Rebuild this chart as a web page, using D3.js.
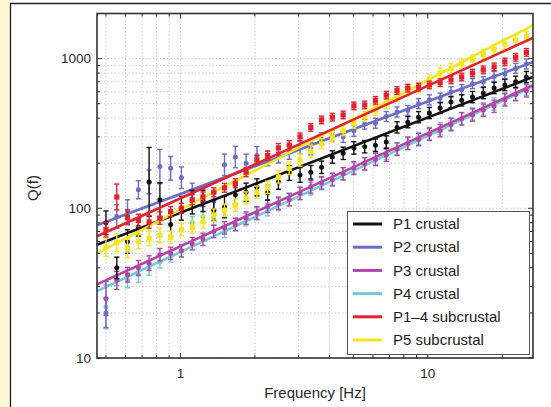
<!DOCTYPE html>
<html>
<head>
<meta charset="utf-8">
<script src="https://cdn.jsdelivr.net/npm/d3@7"></script>
<style>
  body { margin: 0; background: #fff; }
  svg { display: block; font-family: "Liberation Sans", Arial, sans-serif; }
</style>
</head>
<body>
<svg id="chart" width="551" height="407"></svg>
<script>
// frequency of each measurement (Hz)
const freqs = [0.500, 0.553, 0.611, 0.676, 0.747, 0.826, 0.913, 1.009, 1.116, 1.233,
               1.364, 1.507, 1.667, 1.842, 2.037, 2.252, 2.489, 2.752, 3.043, 3.364,
               3.719, 4.111, 4.545, 5.024, 5.555, 6.141, 6.789, 7.506, 8.298, 9.173,
               10.14, 11.21, 12.40, 13.70, 15.15, 16.75, 18.52, 20.47, 22.63, 25.01];

const seriesNames = ["P1 crustal", "P2 crustal", "P3 crustal", "P4 crustal", "P1\u20134 subcrustal", "P5 subcrustal"];

// Q values, relative error (bar spans Q/(1+e) .. Q*(1+e))
const p1Q = [80, 40, 60, 75, 150, 114, 78, 100, 110, 112, 97, 102, 123, 128, 138, 127, 150, 172, 167, 174,
             188, 220, 233, 253, 258, 264, 277, 347, 376, 406, 433, 468, 512, 526, 553, 588, 635, 666, 700, 753];
const p1Err = [0.2, 0.18, 0.2, 0.15, 0.7, 0.3, 0.2, 0.2, 0.2, 0.18, 0.18, 0.18, 0.15, 0.15, 0.14, 0.12, 0.12, 0.12, 0.12, 0.11,
               0.1, 0.1, 0.1, 0.1, 0.1, 0.1, 0.1, 0.09, 0.09, 0.09, 0.09, 0.09, 0.09, 0.09, 0.09, 0.09, 0.09, 0.09, 0.09, 0.09];

const p2Q = [20, 88, 95, 133, 150, 190, 185, 160, 128, 118, 112, 195, 220, 200, 225, 215, 225, 238, 255, 250,
             290, 305, 300, 330, 365, 370, 410, 440, 450, 500, 530, 545, 600, 620, 680, 700, 760, 790, 860, 920];
const p2Err = [0.25, 0.2, 0.2, 0.15, 0.2, 0.3, 0.2, 0.18, 0.15, 0.15, 0.15, 0.18, 0.18, 0.15, 0.15, 0.12, 0.12, 0.12, 0.1, 0.1,
               0.1, 0.09, 0.09, 0.09, 0.08, 0.08, 0.08, 0.08, 0.08, 0.08, 0.08, 0.08, 0.08, 0.08, 0.08, 0.08, 0.08, 0.08, 0.08, 0.08];

const p3Q = [25, 33, 36, 40, 43, 49, 50, 52, 58, 62, 70, 74, 78, 86, 93, 103, 108, 114, 126, 139,
             148, 155, 170, 186, 198, 212, 226, 248, 272, 288, 312, 330, 362, 396, 420, 452, 480, 530, 575, 610];
const p3Err = [0.3, 0.15, 0.12, 0.12, 0.12, 0.1, 0.1, 0.1, 0.1, 0.1, 0.1, 0.1, 0.1, 0.1, 0.1, 0.1, 0.1, 0.1, 0.1, 0.1,
               0.1, 0.1, 0.1, 0.1, 0.1, 0.1, 0.1, 0.1, 0.1, 0.1, 0.1, 0.1, 0.1, 0.1, 0.1, 0.1, 0.1, 0.1, 0.1, 0.1];

const p4Q = [22, 35, 33, 36, 40, 44, 48, 52, 80, 88, 85, 70, 78, 84, 92, 98, 106, 115, 125, 135,
             146, 157, 170, 184, 199, 215, 232, 250, 270, 292, 315, 340, 368, 396, 428, 462, 498, 538, 580, 625];
const p4Err = [0.4, 0.15, 0.12, 0.12, 0.12, 0.1, 0.1, 0.1, 0.1, 0.1, 0.1, 0.1, 0.1, 0.1, 0.1, 0.1, 0.1, 0.1, 0.1, 0.1,
               0.1, 0.1, 0.1, 0.1, 0.1, 0.1, 0.1, 0.1, 0.1, 0.1, 0.1, 0.1, 0.1, 0.1, 0.1, 0.1, 0.1, 0.1, 0.1, 0.1];

const p14Q = [72, 119, 87, 83, 81, 86, 95, 100, 114, 119, 128, 137, 147, 174, 210, 225, 253, 264, 300, 347,
              389, 406, 420, 483, 490, 526, 570, 612, 635, 645, 666, 690, 720, 753, 800, 840, 880, 950, 1020, 1100];
const p14Err = [0.12, 0.22, 0.12, 0.1, 0.1, 0.1, 0.08, 0.08, 0.08, 0.08, 0.07, 0.07, 0.07, 0.07, 0.07, 0.07, 0.07, 0.07, 0.06, 0.06,
                0.06, 0.06, 0.06, 0.06, 0.06, 0.06, 0.06, 0.06, 0.06, 0.06, 0.06, 0.06, 0.06, 0.06, 0.06, 0.06, 0.06, 0.06, 0.06, 0.06];

const p5Q = [55, 59, 54, 60, 63, 66, 64, 72, 75, 81, 90, 97, 105, 117, 128, 138, 162, 185, 210, 240,
             270, 300, 330, 370, 410, 450, 500, 560, 610, 640, 720, 800, 860, 920, 980, 1060, 1150, 1250, 1330, 1400];
const p5Err = [0.15, 0.15, 0.15, 0.12, 0.12, 0.12, 0.1, 0.1, 0.1, 0.1, 0.1, 0.1, 0.1, 0.1, 0.1, 0.1, 0.1, 0.1, 0.1, 0.1,
               0.08, 0.08, 0.08, 0.08, 0.08, 0.08, 0.08, 0.08, 0.08, 0.08, 0.08, 0.08, 0.08, 0.08, 0.08, 0.08, 0.08, 0.08, 0.08, 0.08];

// power-law fits: Q at the two ends of the frequency axis
const fitFreqs = [0.46, 26.6];
const p1Fit = [57, 753];
const p2Fit = [77, 948];
const p3Fit = [31, 665];
const p4Fit = [28, 650];
const p14Fit = [65, 1374];
const p5Fit = [50, 1675];

const xTickLabels = [1, 10];
const yTickLabels = [10, 100, 1000];

const series = [
  { name: seriesNames[0], q: p1Q, err: p1Err, fit: p1Fit, color: "#111111", shape: "circle" },
  { name: seriesNames[1], q: p2Q, err: p2Err, fit: p2Fit, color: "#6d6dc6", shape: "circle" },
  { name: seriesNames[2], q: p3Q, err: p3Err, fit: p3Fit, color: "#b444a6", shape: "circle" },
  { name: seriesNames[3], q: p4Q, err: p4Err, fit: p4Fit, color: "#72c9d6", shape: "circle" },
  { name: seriesNames[4], q: p14Q, err: p14Err, fit: p14Fit, color: "#e2232e", shape: "square" },
  { name: seriesNames[5], q: p5Q, err: p5Err, fit: p5Fit, color: "#f3e61e", shape: "square" }
];
// cyan goes under magenta
const drawOrder = [3, 2, 1, 0, 5, 4];

const svg = d3.select("#chart");

// page frame
svg.append("rect").attr("x", 0).attr("y", 0).attr("width", 10).attr("height", 407).attr("fill", "#fdf7d2");
svg.append("line").attr("x1", 10.5).attr("x2", 10.5).attr("y1", 3).attr("y2", 407).attr("stroke", "#222").attr("stroke-width", 1.3);
svg.append("line").attr("x1", 10).attr("x2", 551).attr("y1", 3.5).attr("y2", 3.5).attr("stroke", "#222").attr("stroke-width", 1.3);

const margin = { left: 97, right: 533, top: 13.5, bottom: 358 };

const x = d3.scaleLog().domain(fitFreqs).range([margin.left, margin.right]);
const y = d3.scaleLog().domain([10, 2000]).range([margin.bottom, margin.top]);

// grid
const grid = svg.append("g").attr("stroke", "#b4b4b4").attr("stroke-width", 0.8).attr("stroke-dasharray", "1.2,2.3");
grid.selectAll(".gx").data(x.ticks()).join("line")
    .attr("x1", d => x(d)).attr("x2", d => x(d))
    .attr("y1", margin.top).attr("y2", margin.bottom);
grid.selectAll(".gy").data(y.ticks()).join("line")
    .attr("x1", margin.left).attr("x2", margin.right)
    .attr("y1", d => y(d)).attr("y2", d => y(d));

// data
const plot = svg.append("g");
drawOrder.forEach(k => {
  const s = series[k];
  const g = plot.append("g");
  const pts = freqs.map((f, i) => ({ f: f, q: s.q[i], e: s.err[i] }));
  g.selectAll(".bar").data(pts).join("line")
   .attr("x1", d => x(d.f)).attr("x2", d => x(d.f))
   .attr("y1", d => y(d.q * (1 + d.e))).attr("y2", d => y(d.q / (1 + d.e)))
   .attr("stroke", s.color).attr("stroke-width", 1.4);
  g.selectAll(".capT").data(pts).join("line")
   .attr("x1", d => x(d.f) - 2.6).attr("x2", d => x(d.f) + 2.6)
   .attr("y1", d => y(d.q * (1 + d.e))).attr("y2", d => y(d.q * (1 + d.e)))
   .attr("stroke", s.color).attr("stroke-width", 1.4);
  g.selectAll(".capB").data(pts).join("line")
   .attr("x1", d => x(d.f) - 2.6).attr("x2", d => x(d.f) + 2.6)
   .attr("y1", d => y(d.q / (1 + d.e))).attr("y2", d => y(d.q / (1 + d.e)))
   .attr("stroke", s.color).attr("stroke-width", 1.4);
  if (s.shape === "circle") {
    g.selectAll(".pt").data(pts).join("circle")
     .attr("cx", d => x(d.f)).attr("cy", d => y(d.q)).attr("r", 2.5)
     .attr("fill", s.color);
  } else {
    g.selectAll(".pt").data(pts).join("rect")
     .attr("x", d => x(d.f) - 2.6).attr("y", d => y(d.q) - 2.6)
     .attr("width", 5.2).attr("height", 5.2)
     .attr("fill", s.color);
  }
  g.append("path")
   .datum(fitFreqs.map((f, i) => [f, s.fit[i]]))
   .attr("d", d3.line().x(d => x(d[0])).y(d => y(d[1])))
   .attr("stroke", s.color).attr("stroke-width", 2.6).attr("fill", "none");
});

// axes (ticks inside, box on)
const tickLen = d => [1, 10, 100, 1000].includes(d) ? 5 : 3;
const axisG = svg.append("g").attr("stroke", "#333").attr("stroke-width", 1);
x.ticks().forEach(d => {
  axisG.append("line").attr("x1", x(d)).attr("x2", x(d)).attr("y1", margin.bottom).attr("y2", margin.bottom - tickLen(d));
  axisG.append("line").attr("x1", x(d)).attr("x2", x(d)).attr("y1", margin.top).attr("y2", margin.top + tickLen(d));
});
y.ticks().forEach(d => {
  axisG.append("line").attr("x1", margin.left).attr("x2", margin.left + tickLen(d)).attr("y1", y(d)).attr("y2", y(d));
  axisG.append("line").attr("x1", margin.right).attr("x2", margin.right - tickLen(d)).attr("y1", y(d)).attr("y2", y(d));
});
svg.append("rect")
   .attr("x", margin.left).attr("y", margin.top)
   .attr("width", margin.right - margin.left).attr("height", margin.bottom - margin.top)
   .attr("fill", "none").attr("stroke", "#333").attr("stroke-width", 1.6);

// tick labels
svg.append("g").selectAll("text").data(xTickLabels).join("text")
   .attr("x", d => x(d)).attr("y", 378)
   .attr("text-anchor", "middle").attr("font-size", 13.5).attr("fill", "#2a2a2a")
   .text(d => d);
svg.append("g").selectAll("text").data(yTickLabels).join("text")
   .attr("x", 91).attr("y", d => y(d) + 4.8)
   .attr("text-anchor", "end").attr("font-size", 13.5).attr("fill", "#2a2a2a")
   .text(d => d);

svg.append("text").attr("x", (margin.left + margin.right) / 2).attr("y", 398)
   .attr("text-anchor", "middle").attr("font-size", 15).attr("fill", "#2a2a2a")
   .text("Frequency [Hz]");
svg.append("text").attr("transform", "translate(38,188) rotate(-90)")
   .attr("text-anchor", "middle").attr("font-size", 15).attr("fill", "#2a2a2a")
   .text("Q(f)");

// legend
const leg = svg.append("g");
leg.append("rect").attr("x", 347.5).attr("y", 211.5).attr("width", 182).attr("height", 143)
   .attr("fill", "#fff").attr("stroke", "#555").attr("stroke-width", 1);
series.forEach((s, i) => {
  const ly = 224 + i * 23.2;
  leg.append("line").attr("x1", 353).attr("x2", 382).attr("y1", ly).attr("y2", ly)
     .attr("stroke", s.color).attr("stroke-width", 3);
  leg.append("text").attr("x", 393).attr("y", ly + 5.2)
     .attr("font-size", 15).attr("fill", "#222").text(s.name);
});
</script>
</body>
</html>
